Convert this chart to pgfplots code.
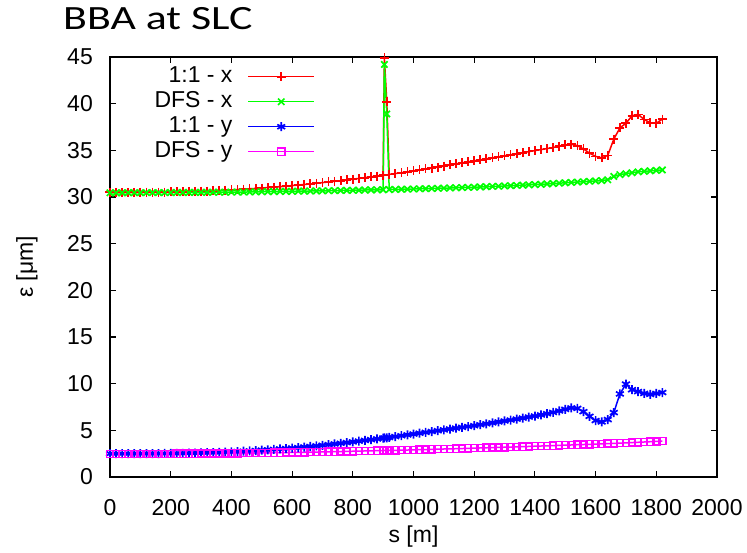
\documentclass[border=0pt]{standalone}
\usepackage{fontspec}
\setmainfont{Liberation Sans}
\newfontfamily\titlefont{Carlito}
\usepackage{graphicx}
\usepackage{pgfplots}
\usepackage{pgfplotstable}
\pgfplotsset{compat=1.18}

% emittance along the linac: s, 1:1 x, DFS x, 1:1 y, DFS y
\pgfplotstableread{
s     rx     gx     by     my
0     30.50  30.45  2.50  2.45
20    30.50  30.45  2.50  2.45
40    30.50  30.45  2.50  2.46
60    30.50  30.46  2.50  2.46
80    30.50  30.46  2.50  2.46
100   30.51  30.46  2.50  2.47
120   30.51  30.46  2.51  2.47
140   30.52  30.47  2.51  2.47
160   30.52  30.47  2.51  2.48
180   30.53  30.47  2.52  2.48
200   30.54  30.48  2.52  2.48
220   30.55  30.48  2.53  2.49
240   30.56  30.48  2.54  2.49
260   30.58  30.49  2.55  2.50
280   30.60  30.49  2.56  2.50
300   30.62  30.50  2.58  2.51
320   30.64  30.50  2.60  2.51
340   30.67  30.51  2.62  2.52
360   30.70  30.51  2.64  2.52
380   30.73  30.52  2.67  2.53
400   30.76  30.52  2.70  2.53
420   30.80  30.53  2.73  2.54
440   30.84  30.53  2.76  2.55
460   30.88  30.54  2.79  2.56
480   30.92  30.55  2.83  2.57
500   30.96  30.56  2.87  2.58
520   31.01  30.57  2.91  2.59
540   31.06  30.58  2.95  2.60
560   31.11  30.59  3.00  2.61
580   31.16  30.60  3.05  2.62
600   31.22  30.61  3.10  2.63
620   31.28  30.62  3.15  2.64
640   31.34  30.63  3.21  2.65
660   31.40  30.64  3.27  2.66
680   31.47  30.65  3.33  2.67
700   31.54  30.66  3.40  2.69
720   31.61  30.67  3.47  2.70
740   31.68  30.68  3.54  2.71
760   31.75  30.70  3.61  2.73
780   31.83  30.71  3.68  2.74
800   31.91  30.72  3.76  2.76
820   31.99  30.73  3.84  2.77
840   32.07  30.75  3.92  2.79
860   32.15  30.76  4.00  2.80
880   32.24  30.77  4.08  2.82
900   32.33  30.78  4.16  2.83
904   44.90  44.20  4.18  2.84
912   40.20  38.90  4.20  2.84
920   32.42  30.80  4.24  2.85
940   32.51  30.81  4.33  2.86
960   32.60  30.83  4.42  2.88
980   32.70  30.84  4.51  2.89
1000  32.80  30.86  4.60  2.91
1020  32.90  30.88  4.69  2.93
1040  33.00  30.89  4.78  2.94
1060  33.10  30.91  4.87  2.96
1080  33.21  30.93  4.96  2.98
1100  33.32  30.95  5.05  3.00
1120  33.43  30.97  5.14  3.01
1140  33.54  30.99  5.23  3.03
1160  33.65  31.01  5.32  3.05
1180  33.76  31.03  5.41  3.07
1200  33.87  31.05  5.50  3.09
1220  33.98  31.08  5.60  3.11
1240  34.09  31.10  5.70  3.13
1260  34.20  31.13  5.80  3.15
1280  34.31  31.15  5.90  3.17
1300  34.42  31.18  6.00  3.19
1320  34.53  31.21  6.10  3.21
1340  34.64  31.24  6.20  3.23
1360  34.75  31.27  6.31  3.25
1380  34.86  31.30  6.42  3.27
1400  34.97  31.33  6.53  3.30
1420  35.08  31.36  6.65  3.32
1440  35.19  31.40  6.78  3.34
1460  35.30  31.44  6.92  3.36
1480  35.45  31.48  7.08  3.39
1500  35.58  31.52  7.25  3.41
1520  35.65  31.56  7.40  3.43
1540  35.50  31.60  7.35  3.46
1560  35.15  31.64  7.00  3.48
1580  34.70  31.68  6.50  3.50
1600  34.35  31.72  6.05  3.53
1620  34.20  31.76  5.90  3.55
1640  34.45  31.85  6.15  3.58
1660  36.20  32.20  6.90  3.60
1680  37.40  32.40  8.90  3.63
1700  37.90  32.50  9.95  3.66
1720  38.70  32.60  9.35  3.69
1740  38.85  32.70  9.15  3.72
1760  38.30  32.75  8.95  3.75
1780  37.95  32.80  8.85  3.78
1800  37.90  32.85  8.95  3.81
1820  38.35  32.90  9.05  3.85
}\emittance

\definecolor{gpred}{RGB}{255,0,0}
\definecolor{gpgreen}{RGB}{0,255,0}
\definecolor{gpblue}{RGB}{0,0,255}
\definecolor{gpmagenta}{RGB}{255,0,255}

\begin{document}
\begin{tikzpicture}
\useasboundingbox (-110pt,-76pt) rectangle (637pt,477pt);
\begin{axis}[
  at={(0pt,0pt)}, anchor=south west,
  scale only axis,
  width=607pt, height=420pt,
  xmin=0, xmax=2000, ymin=0, ymax=45,
  xtick={0,200,...,2000},
  ytick={0,5,...,45},
  tick align=inside,
  major tick length=6pt,
  axis line style={line width=1.4pt},
  every tick/.style={black, line width=1.1pt},
  /pgf/number format/assume math mode=true,
  /pgf/number format/1000 sep={},
  tick label style={font=\fontsize{23}{26}\selectfont},
  xticklabel style={inner sep=0pt, anchor=north, yshift=-22pt},
  yticklabel style={inner sep=0pt, anchor=east, xshift=-17pt},
  xlabel={s [m]},
  ylabel={ε [μm]},
  label style={font=\fontsize{23}{26}\selectfont},
  x label style={at={(axis description cs:0.5,0)}, anchor=center, yshift=-60pt},
  y label style={at={(axis description cs:0,0.5)}, anchor=center, rotate=0, yshift=83pt},
  legend cell align=right,
  legend plot pos=right,
  legend style={
    at={(rel axis cs:0.343,0.988)}, anchor=north east,
    draw=none, fill=none,
    font=\fontsize{23}{26}\selectfont,
    row sep=0pt,
    nodes={inner sep=1pt, text height=17pt, text depth=6pt},
    /tikz/every odd column/.append style={column sep=14pt},
  },
  legend image code/.code={
    \draw[mark repeat=2, mark phase=2, #1]
      plot coordinates {(0pt,0pt) (33pt,0pt) (66pt,0pt)};
  },
  clip=false,
]
\addplot[gpred, line width=1.5pt, mark=+, mark size=4.5pt, mark options={line width=1.7pt}]
  table[x=s, y=rx] {\emittance};
\addlegendentry{1:1 - x}
\addplot[gpgreen, line width=1.5pt, mark=x, mark size=4.5pt, mark options={line width=1.7pt}]
  table[x=s, y=gx] {\emittance};
\addlegendentry{DFS - x}
\addplot[gpblue, line width=1.5pt, mark=asterisk, mark size=4.5pt, mark options={line width=1.7pt}]
  table[x=s, y=by] {\emittance};
\addlegendentry{1:1 - y}
\addplot[gpmagenta, line width=1.5pt, mark=square, mark size=3.6pt, mark options={line width=1.4pt}]
  table[x=s, y=my] {\emittance};
\addlegendentry{DFS - y}
\node[anchor=base west, inner sep=0pt, font=\titlefont\fontsize{34}{39}\selectfont]
  at ([xshift=-47pt, yshift=27pt]rel axis cs:0,1) {\scalebox{1.29}[1]{BBA at SLC}};
\end{axis}
\end{tikzpicture}
\end{document}
